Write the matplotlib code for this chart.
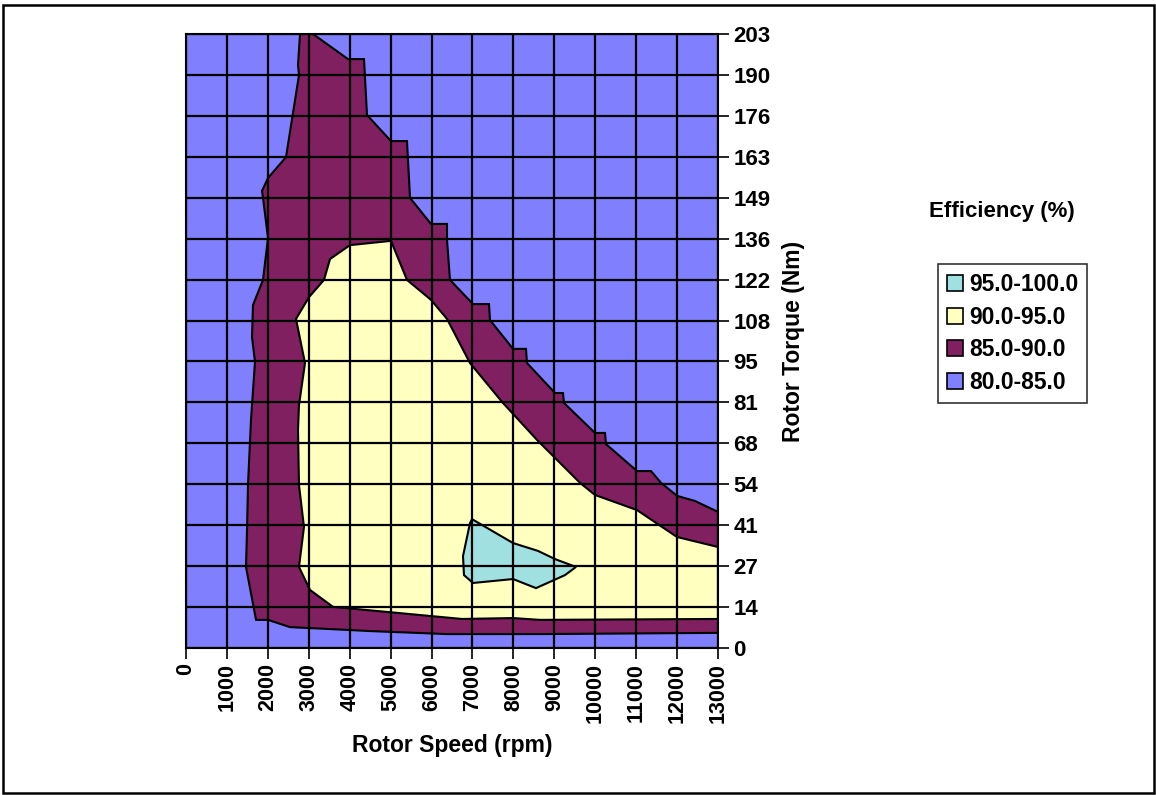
import matplotlib
matplotlib.use("Agg")
import matplotlib.pyplot as plt
import numpy as np
from matplotlib.patches import Rectangle, Patch

# ---------------- data ----------------
speed_ticks = [0, 1000, 2000, 3000, 4000, 5000, 6000, 7000, 8000, 9000,
               10000, 11000, 12000, 13000]
torque_max = 203
torque_labels = ['0', '14', '27', '41', '54', '68', '81', '95', '108', '122',
                 '136', '149', '163', '176', '190', '203']

level_labels = ['95.0-100.0', '90.0-95.0', '85.0-90.0', '80.0-85.0']
level_colors = ['#A0E0E0', '#FFFFC0', '#802060', '#8080FF']

# contour boundary of the 85-90 % region (speed rpm, torque Nm)
eff85_speed = [2786, 2737, 2761, 2444, 2004, 1857, 1882, 2004, 1882, 1637,
               1613, 1686, 1588, 1515, 1491, 1466, 1711, 2004, 2541, 3470,
               4496, 6378, 8650, 13000,
               13000, 12438, 11998, 11607, 11363, 11021, 10263, 10239, 9994,
               9237, 9212, 9017, 8333, 8308, 7991, 7429, 7404, 7013, 6451,
               6378, 6378, 5987, 5474, 5400, 5009, 4423, 4350, 3959, 3103]
eff85_torque = [203, 192.7, 189.4, 162.3, 155.4, 151.1, 148.8, 135.6, 121.7, 113.4,
                102.8, 94.6, 75.4, 53.9, 39.0, 26.8, 9.3, 9.3, 6.9, 6.3,
                5.6, 4.6, 4.6, 5.0,
                45.0, 48.6, 50.3, 54.6, 58.5, 58.5, 67.4, 71.1, 71.1,
                81.0, 84.3, 84.3, 94.2, 98.9, 98.9, 108.4, 113.7, 113.7, 121.7,
                134.9, 140.2, 140.2, 148.8, 167.6, 167.6, 176.2, 194.7, 194.7, 203]

# contour boundary of the 90-95 % region
eff90_speed = [5009, 5400, 5987, 6378, 6940, 7746, 8577, 9628, 9994, 11021,
               11998, 13000, 13000, 8650, 7991, 6744, 3592, 3030, 2761, 2883,
               2761, 2737, 2761, 2908, 2688, 3006, 3372, 3519, 4008]
eff90_torque = [134.6, 121.7, 115.1, 108.8, 94.2, 81.0, 68.8, 54.6, 50.6, 45.6,
                36.7, 33.4, 9.6, 9.3, 9.9, 9.6, 13.6, 19.2, 26.8, 40.0,
                53.9, 72.1, 80.3, 94.2, 108.8, 116.0, 121.7, 128.6, 133.2]

# contour boundary of the 95-100 % region
eff95_speed = [6989, 7991, 8602, 9017, 9530, 9261, 8553, 7991, 7013, 6793,
               6769, 6940]
eff95_torque = [42.6, 34.7, 32.1, 29.4, 26.8, 24.1, 19.8, 22.8, 21.5, 24.1,
                30.4, 41.3]

# ---------------- figure ----------------
plt.rcParams['font.family'] = ['Liberation Sans', 'DejaVu Sans']
plt.rcParams['font.weight'] = 'bold'

W, H = 1156, 795
fig = plt.figure(figsize=(W / 100, H / 100), dpi=100)
fig.patch.set_facecolor('white')

ax = fig.add_axes([186 / W, 1 - 648 / H, (718 - 186) / W, (648 - 34) / H])
ax.set_facecolor(level_colors[3])

ax.fill(eff85_speed, eff85_torque, facecolor=level_colors[2], edgecolor='black',
        linewidth=1.5, zorder=1)
ax.fill(eff90_speed, eff90_torque, facecolor=level_colors[1], edgecolor='black',
        linewidth=1.5, zorder=1.1)
ax.fill(eff95_speed, eff95_torque, facecolor=level_colors[0], edgecolor='black',
        linewidth=1.5, zorder=1.2)

ax.set_xlim(speed_ticks[0], speed_ticks[-1])
ax.set_ylim(0, torque_max)
ax.set_xticks(speed_ticks)
ax.set_xticklabels([str(s) for s in speed_ticks], rotation=90, fontsize=15.5,
                   fontweight='bold')
ytick_pos = np.linspace(0, torque_max, len(torque_labels))
ax.set_yticks(ytick_pos)
ax.set_yticklabels(torque_labels, fontsize=16, fontweight='bold')
ax.yaxis.tick_right()
ax.yaxis.set_label_position('right')
ax.tick_params(axis='both', direction='out', length=8, width=1.2, color='black',
               pad=3)

ax.set_axisbelow(False)
ax.grid(True, color='black', linewidth=1.6)
for s in ax.spines.values():
    s.set_color('black')
    s.set_linewidth(1.5)
    s.set_zorder(3)

ax.set_xlabel('Rotor Speed (rpm)', fontsize=16.5, fontweight='bold', labelpad=8)
ax.set_ylabel('Rotor Torque (Nm)', fontsize=16.5, fontweight='bold', labelpad=8)

# legend
handles = [Patch(facecolor=c, edgecolor='black', linewidth=1.2) for c in level_colors]
leg = fig.legend(handles, level_labels, loc='upper left',
                 bbox_to_anchor=(938 / W, 1 - 264 / H),
                 fontsize=16.5, frameon=True, fancybox=False,
                 handlelength=0.7, handleheight=0.7, handletextpad=0.25,
                 labelspacing=0.42, borderpad=0.4, borderaxespad=0)
leg.get_frame().set_edgecolor('black')
leg.get_frame().set_linewidth(1.2)
for t in leg.get_texts():
    t.set_fontweight('bold')

fig.text(1002 / W, 1 - 211 / H, 'Efficiency (%)', fontsize=16, fontweight='bold',
         ha='center', va='center')

# outer chart border
fig.patches.append(Rectangle((3 / W, 1 - 793 / H), 1151 / W, 788 / H,
                             transform=fig.transFigure, fill=False,
                             edgecolor='black', linewidth=1.8))

fig.savefig('out.png', dpi=100)
